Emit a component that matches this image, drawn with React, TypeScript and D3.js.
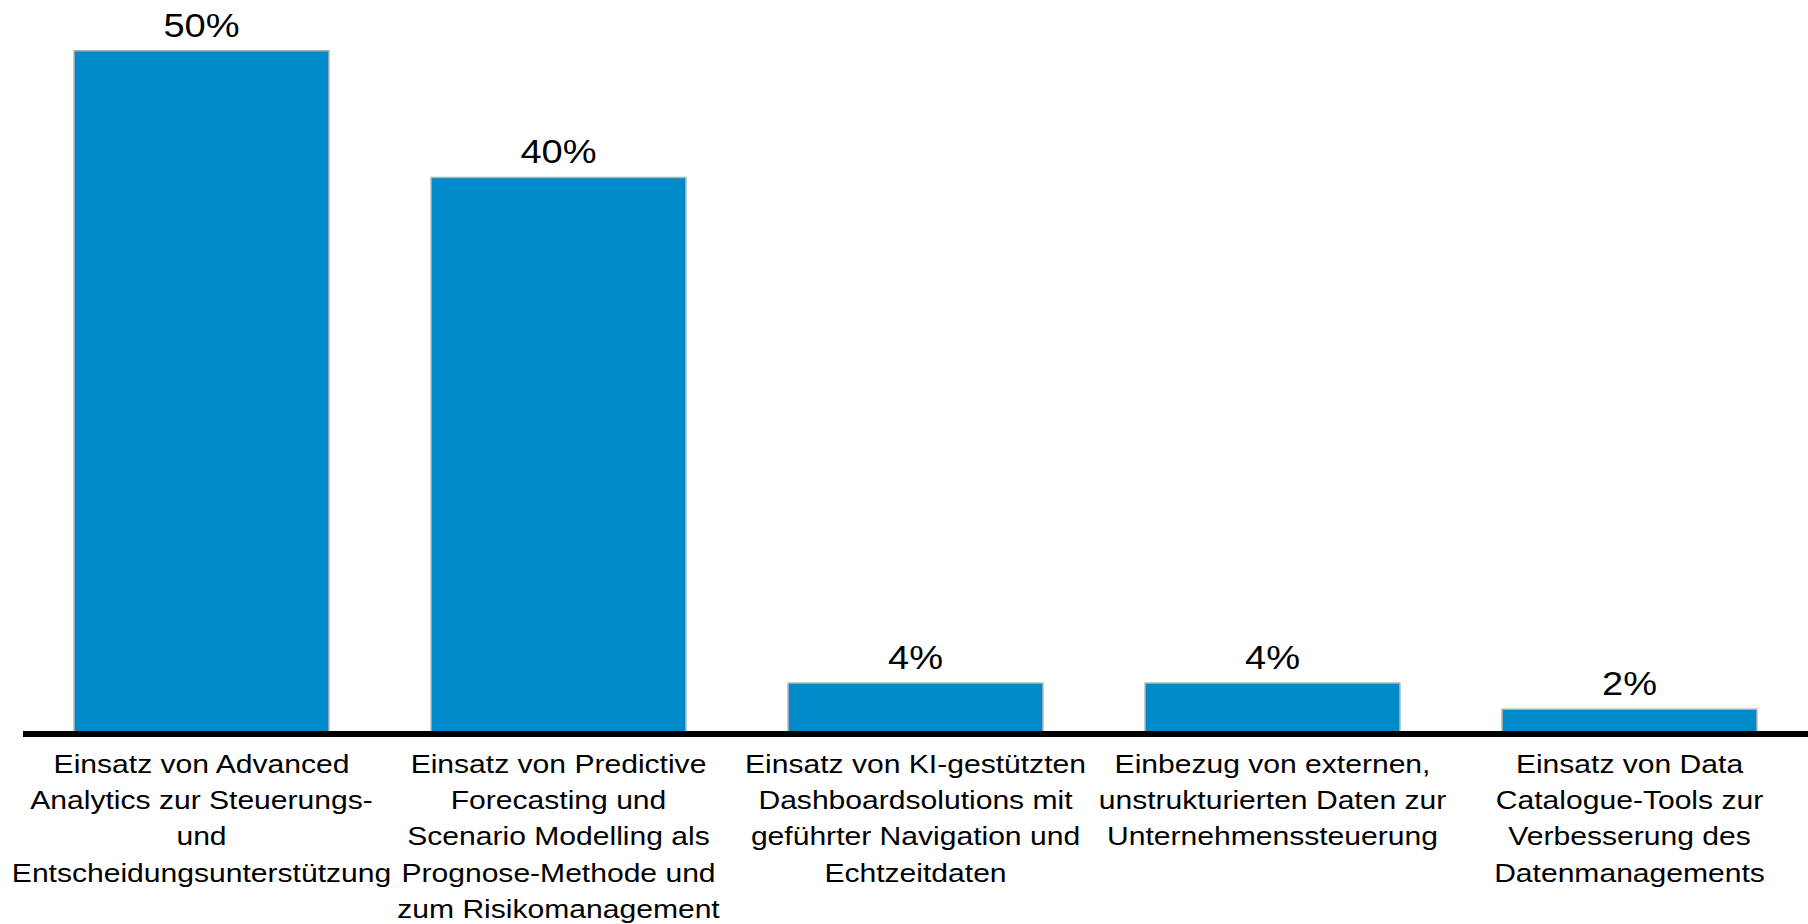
import React from "react";
import * as d3 from "d3";

const categories = ["c1", "c2", "c3", "c4", "c5"];
const values = [49.6, 40.4, 3.7, 3.7, 1.8];
const categoryLines = [
  ["Einsatz von Advanced", "Analytics zur Steuerungs-", "und", "Entscheidungsunterstützung"],
  ["Einsatz von Predictive", "Forecasting und", "Scenario Modelling als", "Prognose-Methode und", "zum Risikomanagement"],
  ["Einsatz von KI-gestützten", "Dashboardsolutions mit", "geführter Navigation und", "Echtzeitdaten"],
  ["Einbezug von externen,", "unstrukturierten Daten zur", "Unternehmenssteuerung"],
  ["Einsatz von Data", "Catalogue-Tools zur", "Verbesserung des", "Datenmanagements"],
];

const W = 1808;
const H = 924;
const FONT = "'Liberation Sans', Arial, sans-serif";
const SX = 1.135;

export default function App() {
  const x = d3
    .scaleBand<string>()
    .domain(categories)
    .range([23, 1808])
    .paddingInner(0.286)
    .paddingOuter(0.143);
  const y = d3.scaleLinear().domain([0, 49.6]).range([734, 50.7]);
  const fmt = (v: number) => d3.format(".0f")(v) + "%";

  return (
    <svg
      width={W}
      height={H}
      style={{ position: "absolute", left: 0, top: 0, background: "#fff" }}
    >
      {categories.map((c, i) => {
        const x0 = x(c)!;
        const bw = x.bandwidth();
        const cx = x0 + bw / 2;
        const yTop = y(values[i]);
        return (
          <g key={c}>
            <rect
              x={x0}
              y={yTop}
              width={bw}
              height={y(0) - yTop}
              fill="#008ACA"
              stroke="#b4b4b4"
              strokeWidth={1.5}
            />
            <text
              transform={`translate(${cx},${yTop - 14}) scale(${SX},1)`}
              textAnchor="middle"
              fontFamily={FONT}
              fontSize={33.5}
              fill="#000"
            >
              {fmt(values[i])}
            </text>
            {categoryLines[i].map((ln, j) => (
              <text
                key={j}
                transform={`translate(${cx},${772.8 + j * 36.3}) scale(${SX},1)`}
                textAnchor="middle"
                fontFamily={FONT}
                fontSize={26.5}
                fill="#000"
              >
                {ln}
              </text>
            ))}
          </g>
        );
      })}
      <line x1={23} x2={1808} y1={y(0)} y2={y(0)} stroke="#000" strokeWidth={6} />
    </svg>
  );
}
